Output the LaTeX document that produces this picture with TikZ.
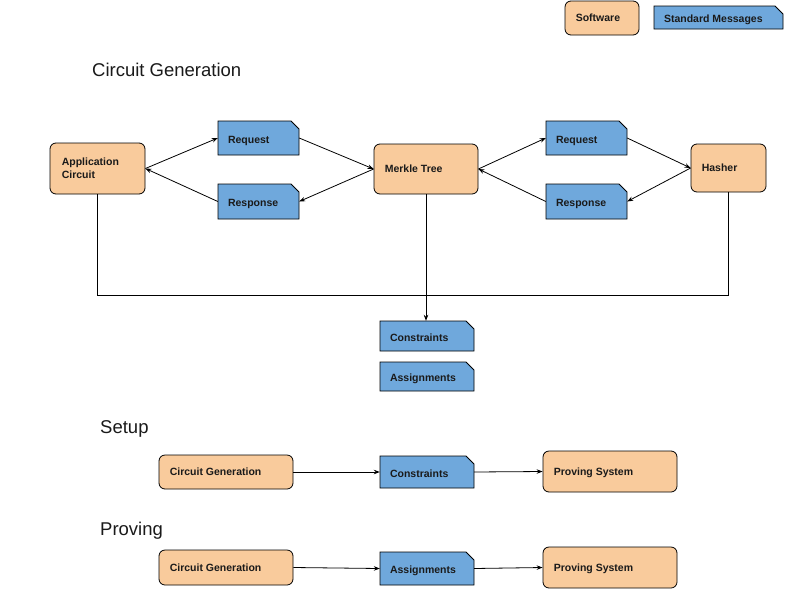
\documentclass[tikz,border=0pt]{standalone}
\usepackage{fontspec}
\setmainfont{Liberation Sans}
\usetikzlibrary{arrows.meta}
\definecolor{swfill}{HTML}{F9CB9C}
\definecolor{msgfill}{HTML}{6FA8DC}
\definecolor{txt}{HTML}{1A1A1A}
\tikzset{
  swnode/.style={draw=black, fill=swfill, rounded corners=6pt, line width=0.8pt, inner sep=0pt},
  msgshape/.style={draw=black, fill=msgfill, line width=0.8pt},
  hidden/.style={inner sep=0pt, draw=none},
  lbl/.style={font=\fontsize{10.5}{13}\selectfont\bfseries, text=txt, inner sep=0pt, align=left, text height=7.5pt, text depth=0pt},
  ttl/.style={font=\fontsize{18.5}{22}\selectfont, text=txt, inner sep=0pt, anchor=west, text height=13.3pt, text depth=0pt},
  conn/.style={line width=0.8pt, draw=black},
  arr/.style={conn, -{Stealth[length=6pt,width=4.5pt]}},
}
\newcommand{\swbox}[6]{%
  \node[swnode, minimum width={(#4-#2)*1pt}, minimum height={(#5-#3)*1pt}] (#1) at ({(#2+#4)/2},{(#3+#5)/2}) {};
  \node[lbl, anchor=west] (#1-t) at ([xshift=11pt]#1.west) {#6};
}
\newcommand{\msgbox}[6]{%
  \filldraw[msgshape] (#2,#3) -- ({#4-8},#3) -- (#4,{#3+8}) -- (#4,#5) -- (#2,#5) -- cycle;
  \node[hidden, minimum width={(#4-#2)*1pt}, minimum height={(#5-#3)*1pt}] (#1) at ({(#2+#4)/2},{(#3+#5)/2}) {};
  \node[lbl, anchor=west] (#1-t) at ([xshift=10pt, yshift=-1.5pt]#1.west) {#6};
}
\begin{document}
\begin{tikzpicture}[x=1pt, y=-1pt]
\useasboundingbox (0,0) rectangle (800,600);
\fill[white] (0,0) rectangle (800,600);

% legend
\swbox{legsw}{565}{1}{639}{35}{Software}
\msgbox{legmsg}{654}{6}{783}{29}{Standard Messages}

% titles
\node[ttl] (t1) at (92,70) {Circuit Generation};
\node[ttl] (t2) at (100,427) {Setup};
\node[ttl] (t3) at (100,529) {Proving};

% circuit generation
\node[swnode, minimum width=95pt, minimum height=51pt] (app) at (97.5,168.5) {};
\node[lbl, anchor=west, text height=20.5pt] (app-t) at ([xshift=12pt]app.west) {Application\\Circuit};
\msgbox{req1}{218}{121}{299}{155}{Request}
\msgbox{res1}{218}{184}{299}{219}{Response}
\swbox{mt}{374}{144}{478}{194}{Merkle Tree}
\msgbox{req2}{546}{121}{627}{155}{Request}
\msgbox{res2}{546}{184}{627}{219}{Response}
\swbox{hs}{691}{144}{766}{192}{Hasher}
\msgbox{con1}{380}{321}{474}{351}{Constraints}
\msgbox{asg1}{380}{362}{474}{391}{Assignments}

\draw[arr] (app.east) -- (req1.west);
\draw[arr] (req1.east) -- (mt.west);
\draw[arr] (mt.west) -- (res1.east);
\draw[arr] (res1.west) -- (app.east);
\draw[arr] (mt.east) -- (req2.west);
\draw[arr] (req2.east) -- (hs.west);
\draw[arr] (hs.west) -- (res2.east);
\draw[arr] (res2.west) -- (mt.east);

\draw[conn] (app.south) -- (app.south |- 0,295) -- (hs.south |- 0,295) -- (hs.south);
\draw[arr] (mt.south) -- (mt.south |- con1.north);

% setup
\swbox{cg1}{159}{455}{293}{489}{Circuit Generation}
\msgbox{con2}{380}{456}{474}{488}{Constraints}
\swbox{ps1}{543}{451}{677}{492}{Proving System}
\draw[arr] (cg1.east) -- (con2.west);
\draw[arr] (con2.east) -- (ps1.west);

% proving
\swbox{cg2}{159}{550}{293}{585}{Circuit Generation}
\msgbox{asg2}{380}{552}{474}{585}{Assignments}
\swbox{ps2}{543}{547}{677}{588}{Proving System}
\draw[arr] (cg2.east) -- (asg2.west);
\draw[arr] (asg2.east) -- (ps2.west);
\end{tikzpicture}
\end{document}
